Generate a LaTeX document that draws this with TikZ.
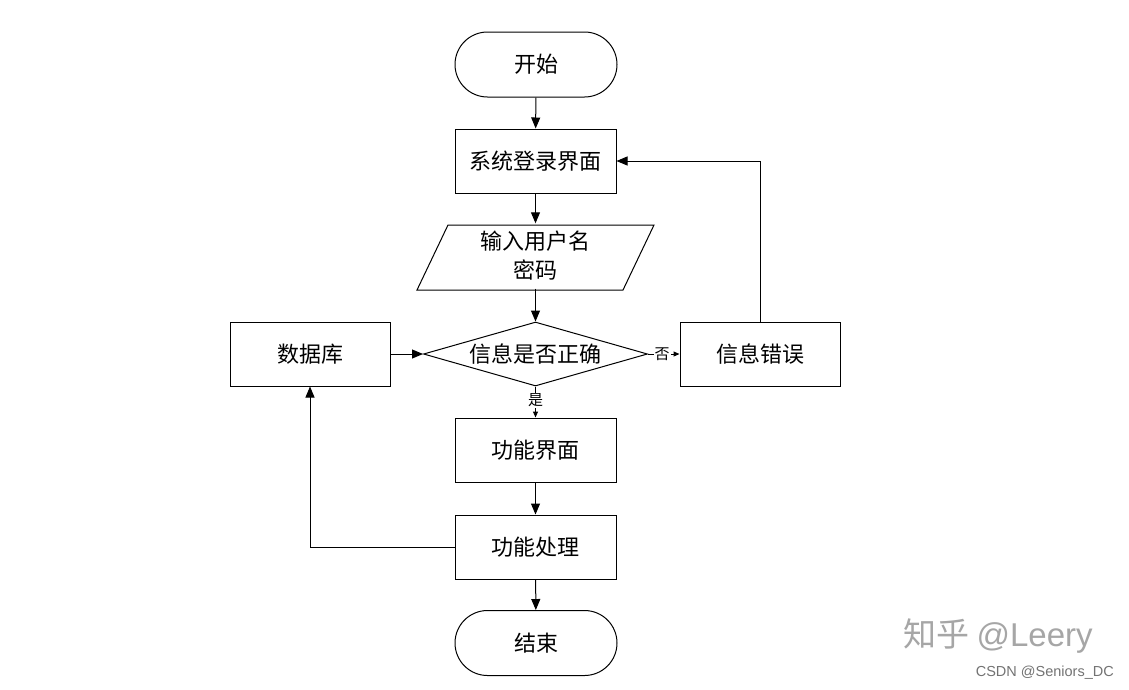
\documentclass[tikz,border=0pt]{standalone}
\usepackage{fontspec}
\setmainfont{Liberation Sans}
\newfontfamily\cjk{Noto Sans CJK SC}
\usetikzlibrary{arrows.meta,shapes.geometric,shapes.misc}
\begin{document}
\begin{tikzpicture}[x=1pt,y=-1pt,
  every node/.style={font=\cjk\fontsize{22}{27}\selectfont},
  procbox/.style={draw, line width=1pt, rectangle, minimum width=161pt, minimum height=64pt, inner sep=0pt},
  termbox/.style={draw, line width=1pt, rounded rectangle, minimum width=162pt, minimum height=65pt, inner sep=0pt},
  arr/.style={line width=1pt, -{Triangle[length=11pt,width=9pt]}},
  smallarr/.style={line width=1pt, -{Triangle[length=6pt,width=5pt]}},
  lab/.style={font=\cjk\fontsize{15}{17}\selectfont, fill=white, inner sep=1pt}
]
\useasboundingbox (0,0) rectangle (1129,689);
\fill[white] (0,0) rectangle (1129,689);

\node[termbox] (start) at (536,64.5) {开始};
\node[procbox] (login) at (535.5,161) {系统登录界面};
% parallelogram
\coordinate (p1) at (448,225);
\coordinate (p2) at (654,225);
\coordinate (p3) at (623,290);
\coordinate (p4) at (417,290);
\draw[line width=1pt] (p1) -- (p2) -- (p3) -- (p4) -- cycle;
\node[minimum width=206pt, minimum height=65pt, inner sep=0pt, align=center] (inp) at (535.5,256) {输入用户名\\[2pt]密码};
% decision
\node[draw, line width=1pt, diamond, minimum width=224pt, minimum height=64pt, inner sep=0pt] (dec) at (535.5,354) {};
\node at (dec) {信息是否正确};
\node[procbox, minimum width=160pt] (db) at (310,354) {数据库};
\node[procbox, minimum width=160pt] (err) at (760,354) {信息错误};
\node[procbox] (func) at (535.5,450) {功能界面};
\node[procbox] (proc) at (535.5,547) {功能处理};
\node[termbox] (end) at (536,643) {结束};

\draw[arr] (start) -- (login);
\draw[arr] (login) -- (inp.north);
\draw[arr] (inp.south) -- (dec.north);
\draw[arr] (db) -- (dec.west);
\draw[smallarr] (dec.east) -- node[lab, pos=0.45] (no) {否} (err.west);
\draw[smallarr] (dec.south) -- node[lab, pos=0.45] (yes) {是} (func.north);
\draw[arr] (func) -- (proc);
\draw[arr] (proc) -- (end);
\draw[arr] (err.north) |- (login.east);
\draw[arr] (proc.west) -| (db.south);

% watermarks
\node[text=black!35, font=\cjk\fontsize{33}{37}\selectfont, anchor=west, inner sep=0pt] (wm1) at (903,636) {知乎 {\rmfamily @Leery}};
\node[text=black!55, font=\rmfamily\fontsize{14.5}{16}\selectfont, anchor=east, inner sep=0pt] (wm2) at (1114,673) {CSDN @Seniors\_DC};
\end{tikzpicture}
\end{document}
